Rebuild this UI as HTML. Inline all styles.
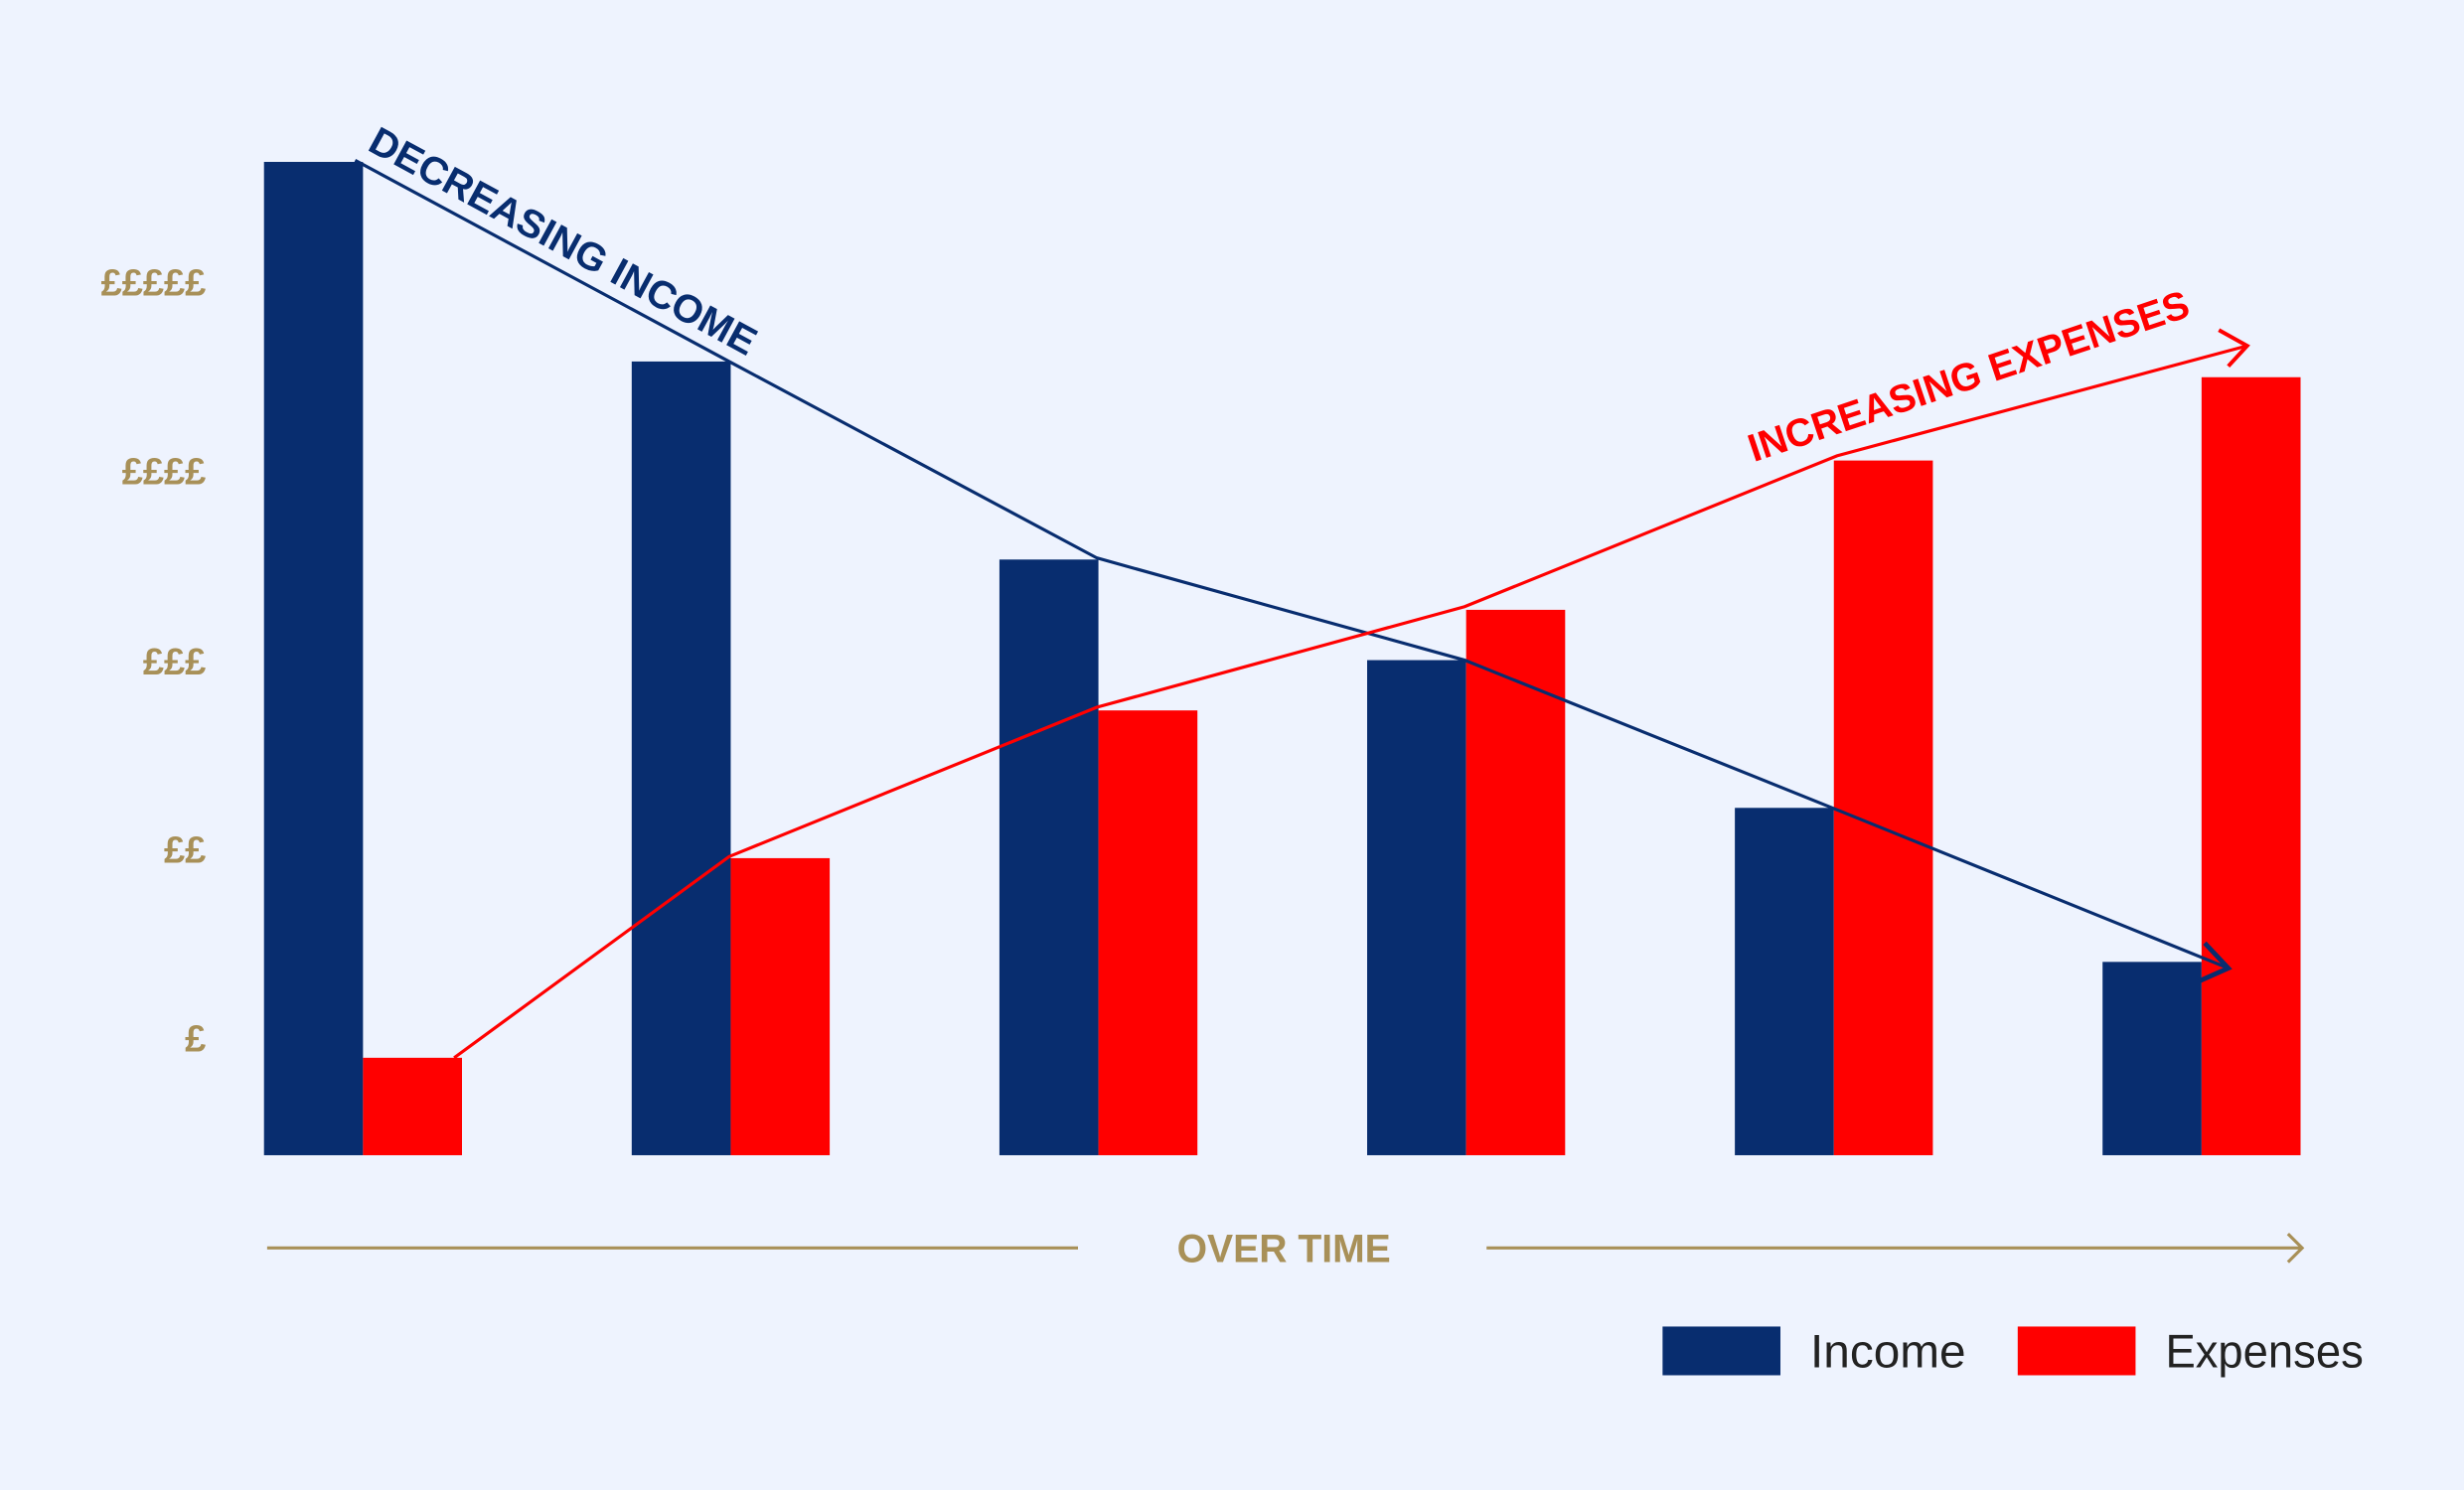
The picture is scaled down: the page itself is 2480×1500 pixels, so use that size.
<!DOCTYPE html>
<html><head><meta charset="utf-8"><style>
html,body{margin:0;padding:0;background:#eef3fe;}
svg{display:block;}
text{font-family:"Liberation Sans",sans-serif;}
</style></head><body>
<svg width="2480" height="1500" viewBox="0 0 1568 948" preserveAspectRatio="none">
<rect width="1568" height="948" fill="#eef3fe"/>
<g fill="#a89058" font-weight="bold" font-size="24" text-anchor="end">
<text x="131" y="188">£££££</text>
<text x="131" y="308">££££</text>
<text x="131" y="429">£££</text>
<text x="131" y="549">££</text>
<text x="131" y="669">£</text>
</g>
<g fill="#082d6f">
<rect x="168" y="103" width="63" height="632"/>
<rect x="402" y="230" width="63" height="505"/>
<rect x="636" y="356" width="63" height="379"/>
<rect x="870" y="420" width="63" height="315"/>
<rect x="1104" y="514" width="63" height="221"/>
<rect x="1338" y="612" width="63" height="123"/>
</g>
<g fill="#ff0000">
<rect x="231" y="673" width="63" height="62"/>
<rect x="465" y="546" width="63" height="189"/>
<rect x="699" y="452" width="63" height="283"/>
<rect x="933" y="388" width="63" height="347"/>
<rect x="1167" y="293" width="63" height="442"/>
<rect x="1401" y="240" width="63" height="495"/>
</g>
<polyline points="226,102 464,230 698,355 932,420 1166,514 1418,616" fill="none" stroke="#082d6f" stroke-width="2"/>
<polyline points="1403,600 1418,616 1400,624" fill="none" stroke="#082d6f" stroke-width="3"/>
<polyline points="289,673 464,545 698,450 932,386 1169,290 1430,220" fill="none" stroke="#ff0000" stroke-width="2"/>
<polyline points="1412,210 1430,220 1418,233" fill="none" stroke="#ff0000" stroke-width="2.5"/>
<text x="0" y="0" transform="translate(233,95) rotate(28.5)" fill="#082d6f" font-weight="bold" font-size="25" textLength="276" lengthAdjust="spacingAndGlyphs">DECREASING INCOME</text>
<text x="0" y="0" transform="translate(1116,294) rotate(-18.5)" fill="#ff0000" font-weight="bold" font-size="25" textLength="294" lengthAdjust="spacingAndGlyphs">INCREASING EXPENSES</text>
<line x1="170" y1="794" x2="686" y2="794" stroke="#a89058" stroke-width="2"/>
<line x1="946" y1="794" x2="1465" y2="794" stroke="#a89058" stroke-width="2"/>
<polyline points="1456,785 1465,794 1456,803" fill="none" stroke="#a89058" stroke-width="2"/>
<text x="817" y="803" text-anchor="middle" fill="#a89058" font-weight="bold" font-size="25" textLength="136" lengthAdjust="spacingAndGlyphs">OVER TIME</text>
<rect x="1058" y="844" width="75" height="31" fill="#082d6f"/>
<text x="1152" y="870" font-size="30" fill="#222" textLength="99" lengthAdjust="spacingAndGlyphs">Income</text>
<rect x="1284" y="844" width="75" height="31" fill="#ff0000"/>
<text x="1378" y="870" font-size="30" fill="#222" textLength="126" lengthAdjust="spacingAndGlyphs">Expenses</text>
</svg>
</body></html>
